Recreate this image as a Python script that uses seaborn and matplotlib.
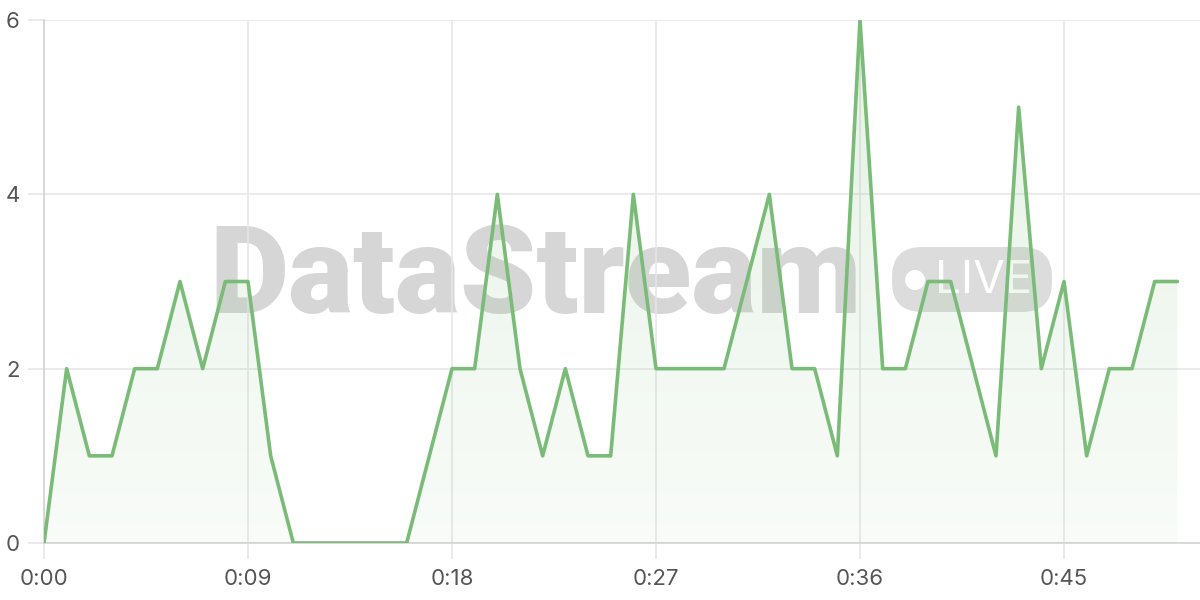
import numpy as np
import pandas as pd
import matplotlib
matplotlib.use("Agg")
import matplotlib.pyplot as plt
import seaborn as sns
from matplotlib.patches import FancyBboxPatch, Circle
from matplotlib.transforms import IdentityTransform

seconds = list(range(51))
values = [0, 2, 1, 1, 2, 2, 3, 2, 3, 3,
          1, 0, 0, 0, 0, 0, 0, 1, 2, 2,
          4, 2, 1, 2, 1, 1, 4, 2, 2, 2,
          2, 3, 4, 2, 2, 1, 6, 2, 2, 3,
          3, 2, 1, 5, 2, 3, 1, 2, 2, 3, 3]
x_ticks = [0, 9, 18, 27, 36, 45]
x_tick_labels = ["0:00", "0:09", "0:18", "0:27", "0:36", "0:45"]
y_ticks = [0, 2, 4, 6]

df = pd.DataFrame({"t": seconds, "v": values})

sns.set_theme(style="white")
plt.rcParams["font.family"] = ["Inter", "DejaVu Sans"]

fig = plt.figure(figsize=(12, 6), dpi=100)
ax = fig.add_axes([44/1200, 57/600, 1 - 44/1200, 523/600])

line_color = "#7abb78"
grid_color = "#e6e6e6"
ident = IdentityTransform()

# watermark (pixel coordinates, drawn behind data)
ax.text(209, 600 - 313, "DataStream", transform=ident, fontsize=88,
        fontweight="black", color="#d6d6d6", ha="left", va="baseline", zorder=0,
        family=["Roboto", "DejaVu Sans"], clip_on=False)
pill = FancyBboxPatch((892, 600 - 312), 160, 65, boxstyle="round,pad=0,rounding_size=30",
                      transform=ident, facecolor="#dcdcdc", edgecolor="none", zorder=0,
                      clip_on=False)
ax.add_patch(pill)
dot = Circle((915, 600 - 280), 10, transform=ident, facecolor="white",
             edgecolor="none", zorder=0.5, clip_on=False)
ax.add_patch(dot)
ax.text(984, 600 - 281, "LIVE", transform=ident, fontsize=33, color="white",
        ha="center", va="center", zorder=0.5, clip_on=False)

# gradient fill under the line
verts = ax.fill_between(df["t"], df["v"], 0, color="none", zorder=1)
grad = np.linspace(0.19, 0.05, 256).reshape(-1, 1)
rgba = np.zeros((256, 1, 4))
rgba[..., 0] = 0.48
rgba[..., 1] = 0.73
rgba[..., 2] = 0.47
rgba[..., 3] = grad
im = ax.imshow(rgba, extent=[0, 51, 0, 6], origin="upper", aspect="auto", zorder=1)
im.set_clip_path(verts.get_paths()[0], transform=ax.transData)

sns.lineplot(data=df, x="t", y="v", ax=ax, color=line_color, linewidth=2.6, zorder=3)

ax.set_xlim(0, 51)
ax.set_ylim(0, 6)
ax.set_xticks(x_ticks)
ax.set_xticklabels(x_tick_labels)
ax.set_yticks(y_ticks)
ax.set_xlabel("")
ax.set_ylabel("")
ax.grid(True, color=grid_color, linewidth=1.1, zorder=0)
ax.set_axisbelow(True)
ax.tick_params(axis="both", length=11.5, width=1.1, color=grid_color,
               labelsize=16, labelcolor="#555555", left=True, bottom=True)
ax.tick_params(axis="y", pad=6)
ax.tick_params(axis="x", pad=7)
for s in ["top", "right"]:
    ax.spines[s].set_visible(False)
for s in ["left", "bottom"]:
    ax.spines[s].set_color("#d0d0d0")
    ax.spines[s].set_linewidth(1.1)
ax.patch.set_alpha(0)

fig.savefig("out.png", dpi=100)
